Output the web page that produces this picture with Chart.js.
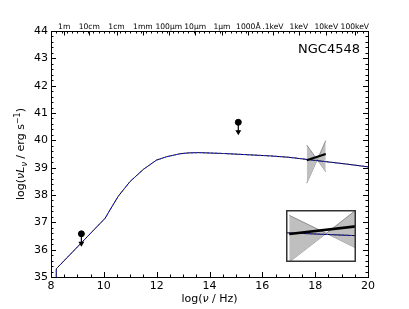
<!DOCTYPE html>
<html>
<head>
<meta charset="utf-8">
<script src="https://cdn.jsdelivr.net/npm/chart.js@4.4.0/dist/chart.umd.min.js"></script>
<style>
    body { margin: 0; background: #fff; }
    #wrap { position: relative; width: 409px; height: 309px; }
    #inset { position: absolute; left: 286px; top: 210px; }
</style>
</head>
<body>
<div id="wrap">
    <canvas id="sed" width="409" height="309"></canvas>
    <canvas id="inset" width="70" height="52"></canvas>
</div>
<script>
const FONT = '"DejaVu Sans", sans-serif';

// model SED curve (log nu, log nuLnu)
const modelX = [8.2, 8.2, 10.05, 10.23, 10.55, 10.99, 11.5, 12.0, 12.38, 12.89, 13.2, 13.6, 14.5, 15.5, 16.3, 17.0, 17.7, 18.4, 19.2, 20.0];
const modelY = [34.0, 35.3, 37.15, 37.45, 37.96, 38.49, 38.94, 39.28, 39.40, 39.51, 39.54, 39.55, 39.52, 39.47, 39.43, 39.38, 39.30, 39.22, 39.13, 39.03];

// upper limits
const limitX = [9.15, 15.09];
const limitY = [36.58, 40.66];

// x-ray bow tie and power law
const bowX = [17.68, 18.08, 18.4];
const bowHi = [39.83, 39.29, 39.99];
const bowLo = [38.43, 39.29, 38.85];
const plawX = [17.68, 18.4];
const plawY = [39.27, 39.5];

// top axis (wavelength / energy)
const topTickPos = [8.5, 9.45, 10.48, 11.48, 12.46, 13.46, 14.47, 15.47, 16.4, 17.38, 18.42, 19.5];
const topTickLabels = ['1m', '10cm', '1cm', '1mm', '100\u03bcm', '10\u03bcm', '1\u03bcm', '1000\u00c5', '.1keV', '1keV', '10keV', '100keV'];

const xTicks = [8, 10, 12, 14, 16, 18, 20];
const yTicks = [35, 36, 37, 38, 39, 40, 41, 42, 43, 44];

const arrowLen = 0.35;

function pts(xs, ys) {
    return xs.map((v, i) => ({x: v, y: ys[i]}));
}

function sedDatasets(withLimits, lawWidth) {
    let sets = [
        {data: pts(plawX, plawY), borderColor: '#000', borderWidth: lawWidth, order: 1},
        {data: pts(modelX, modelY), borderColor: '#2b2bff', borderWidth: 1, borderDash: [2, 2], order: 3},
        {data: pts(modelX, modelY), borderColor: '#000', borderWidth: 1, order: 4},
        {data: pts(bowX, bowHi), borderColor: '#7a7a7a', borderWidth: 0.8, backgroundColor: '#bfbfbf', fill: '+1', order: 8},
        {data: pts(bowX, bowLo), borderColor: '#7a7a7a', borderWidth: 0.8, fill: false, order: 9}
    ];
    sets.forEach(s => { s.showLine = true; s.pointRadius = 0; });
    if (withLimits) {
        sets.push({data: pts(limitX, limitY), showLine: false, pointRadius: 3, backgroundColor: '#000', borderColor: '#000', order: 0});
        limitX.forEach((v, i) => {
            sets.push({
                data: [{x: v, y: limitY[i]}, {x: v, y: limitY[i] - arrowLen}],
                showLine: true, borderColor: '#000', borderWidth: 1.2,
                pointRadius: [0, 2.2], pointStyle: 'triangle', rotation: 180,
                backgroundColor: '#000', order: 0
            });
        });
    }
    return sets;
}

function richText(ctx, parts, cx, cy) {
    let w = 0;
    parts.forEach(p => { ctx.font = p.f; w += ctx.measureText(p.t).width; });
    let x = cx - w / 2;
    parts.forEach(p => {
        ctx.font = p.f;
        ctx.fillText(p.t, x, cy + (p.dy || 0));
        x += ctx.measureText(p.t).width;
    });
}

const framePlugin = {
    id: 'frame',
    afterDatasetsDraw(chart) {
        const {ctx, chartArea: a, scales: {x, y}} = chart;
        ctx.save();
        ctx.strokeStyle = '#000';
        ctx.lineWidth = 1;
        ctx.strokeRect(Math.round(a.left) + 0.5, Math.round(a.top) + 0.5, Math.round(a.right - a.left), Math.round(a.bottom - a.top));
        ctx.beginPath();
        for (let v = 8; v <= 20.001; v += 0.5) {
            const px = Math.round(x.getPixelForValue(v)) + 0.5;
            const len = Math.abs(v % 2) < 0.01 ? 5 : 2.5;
            ctx.moveTo(px, a.bottom); ctx.lineTo(px, a.bottom - len);
        }
        for (let v = 8; v <= 20.001; v += 0.2) {
            const px = Math.round(x.getPixelForValue(v)) + 0.5;
            ctx.moveTo(px, a.top); ctx.lineTo(px, a.top + 2.5);
        }
        topTickPos.forEach(v => {
            const px = Math.round(x.getPixelForValue(v)) + 0.5;
            ctx.moveTo(px, a.top); ctx.lineTo(px, a.top + 4.5);
        });
        for (let v = 35; v <= 44.001; v += 0.2) {
            const py = Math.round(y.getPixelForValue(v)) + 0.5;
            const len = Math.abs(v - Math.round(v)) < 0.01 ? 5 : 2.5;
            ctx.moveTo(a.left, py); ctx.lineTo(a.left + len, py);
            ctx.moveTo(a.right, py); ctx.lineTo(a.right - len, py);
        }
        ctx.stroke();

        ctx.fillStyle = '#000';
        ctx.textAlign = 'right';
        ctx.textBaseline = 'alphabetic';
        ctx.font = '13px ' + FONT;
        ctx.fillText('NGC4548', a.right - 8, a.top + 22);

        ctx.textAlign = 'left';
        const f = '11px ' + FONT, fi = 'italic 11px ' + FONT, fs = '8px ' + FONT, fsi = 'italic 8px ' + FONT;
        richText(ctx, [{t: 'log(', f: f}, {t: '\u03bd', f: fi}, {t: ' / Hz)', f: f}], (a.left + a.right) / 2, 302);
        ctx.translate(24, (a.top + a.bottom) / 2);
        ctx.rotate(-Math.PI / 2);
        richText(ctx, [
            {t: 'log(', f: f}, {t: '\u03bdL', f: fi}, {t: '\u03bd', f: fsi, dy: 3},
            {t: ' / erg s', f: f}, {t: '\u22121', f: fs, dy: -4}, {t: ')', f: f}
        ], 0, 0);
        ctx.restore();
    }
};

function drawGraphSed(id) {
    return new Chart(document.getElementById(id), {
        type: 'scatter',
        data: {datasets: sedDatasets(true, 2.2)},
        options: {
            responsive: false,
            animation: false,
            layout: {padding: {left: 0, right: 41, top: 0, bottom: 0}},
            plugins: {legend: {display: false}, tooltip: {enabled: false}},
            scales: {
                x: {
                    type: 'linear', position: 'bottom', min: 8, max: 20,
                    grid: {display: false, drawTicks: false}, border: {display: false},
                    afterBuildTicks: s => { s.ticks = xTicks.map(v => ({value: v})); },
                    ticks: {color: '#000', font: {family: FONT, size: 11}, padding: 3, maxRotation: 0},
                    afterFit: s => { s.height = 32; }
                },
                x2: {
                    type: 'linear', position: 'top', min: 8, max: 20,
                    grid: {display: false, drawTicks: false}, border: {display: false},
                    afterBuildTicks: s => { s.ticks = topTickPos.map(v => ({value: v})); },
                    ticks: {
                        color: '#000', font: {family: FONT, size: 7.6}, padding: -1,
                        maxRotation: 0, autoSkip: false,
                        callback: (v, i) => topTickLabels[i]
                    },
                    afterFit: s => { s.height = 31; }
                },
                y: {
                    type: 'linear', min: 35, max: 44,
                    grid: {display: false, drawTicks: false}, border: {display: false},
                    afterBuildTicks: s => { s.ticks = yTicks.map(v => ({value: v})); },
                    ticks: {color: '#000', font: {family: FONT, size: 11}, padding: 3},
                    afterFit: s => { s.width = 51; }
                }
            }
        },
        plugins: [framePlugin]
    });
}

function drawGraphInset(id) {
    return new Chart(document.getElementById(id), {
        type: 'scatter',
        data: {datasets: sedDatasets(false, 2.6)},
        options: {
            responsive: false,
            animation: false,
            layout: {padding: 0},
            plugins: {legend: {display: false}, tooltip: {enabled: false}},
            scales: {
                x: {type: 'linear', min: 17.645, max: 18.4, display: false},
                y: {type: 'linear', min: 38.43, max: 39.99, display: false}
            }
        },
        plugins: [{
            id: 'insetBox',
            beforeDraw(chart) {
                const ctx = chart.ctx;
                ctx.save();
                ctx.fillStyle = '#fff';
                ctx.fillRect(0, 0, chart.width, chart.height);
                ctx.restore();
            },
            afterDatasetsDraw(chart) {
                const ctx = chart.ctx;
                ctx.save();
                ctx.strokeStyle = '#333';
                ctx.lineWidth = 1.5;
                ctx.strokeRect(0.75, 0.75, chart.width - 1.5, chart.height - 1.5);
                ctx.restore();
            }
        }]
    });
}

drawGraphSed('sed');
drawGraphInset('inset');
</script>
</body>
</html>
